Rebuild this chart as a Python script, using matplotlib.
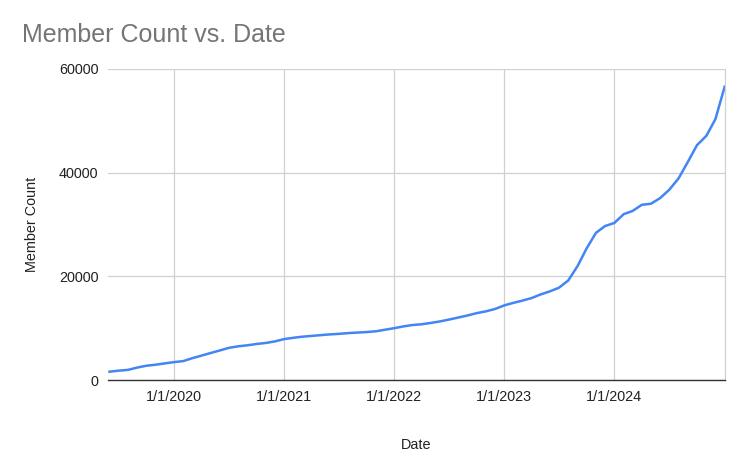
import numpy as np
import pandas as pd
import matplotlib
matplotlib.use('Agg')
import matplotlib.pyplot as plt
import matplotlib.dates as mdates

plt.rcParams['font.family'] = ['Liberation Sans', 'DejaVu Sans']

# monthly member counts, Jun 2019 .. Jan 2025
dates = pd.date_range('2019-06-01', '2025-01-01', freq='MS')
members = [
    1600, 1800, 1950, 2400, 2750, 2950, 3200,                 # 2019 Jun-Dec
    3450, 3650, 4200, 4700, 5200, 5700, 6200, 6500, 6700, 6950, 7150, 7450,   # 2020
    7900, 8150, 8350, 8500, 8650, 8800, 8900, 9050, 9150, 9250, 9400, 9700,   # 2021
    10000, 10350, 10600, 10750, 11000, 11300, 11650, 12050, 12450, 12900, 13250, 13700,  # 2022
    14400, 14900, 15300, 15800, 16500, 17100, 17800, 19200, 22000, 25400, 28400, 29700,  # 2023
    30300, 32000, 32600, 33800, 34000, 35100, 36700, 38900, 42100, 45300, 47100, 50300,  # 2024
    56600,                                                     # 2025 Jan
]
yticks = [0, 20000, 40000, 60000]
xtick_years = [2020, 2021, 2022, 2023, 2024]

fig = plt.figure(figsize=(7.49, 4.63), dpi=100)
ax = fig.add_axes([108 / 749, 1 - 380 / 463, (725 - 108) / 749, (380 - 69) / 463])

ax.plot(dates, members, color='#4285F4', lw=1.8, solid_joinstyle='round')

ax.set_ylim(0, 60000)
ax.set_yticks(yticks)
ax.set_xlim(pd.Timestamp('2019-05-27'), pd.Timestamp('2025-01-02'))
ticks = [pd.Timestamp(f'{y}-01-01') for y in xtick_years]
ax.set_xticks(ticks)
ax.set_xticklabels([f'1/1/{y}' for y in xtick_years])

ax.grid(True, color='#d0d0d0', lw=0.9)
ax.set_axisbelow(True)
ax.tick_params(length=0, labelsize=10.4, colors='#222222', pad=7)

for s in ['left', 'top']:
    ax.spines[s].set_visible(False)
ax.spines['right'].set_color('#d0d0d0')
ax.spines['right'].set_linewidth(0.9)
ax.spines['bottom'].set_color('#333333')
ax.spines['bottom'].set_linewidth(1.0)

ax.set_xlabel('Date', fontsize=10.4, color='#222222', labelpad=25)
ax.set_ylabel('Member Count', fontsize=10.4, color='#222222', labelpad=14)

fig.text(22 / 749, 1 - 35 / 463, 'Member Count vs. Date', fontsize=18,
         color='#757575', va='center', ha='left')

fig.savefig('out.png', dpi=100)
